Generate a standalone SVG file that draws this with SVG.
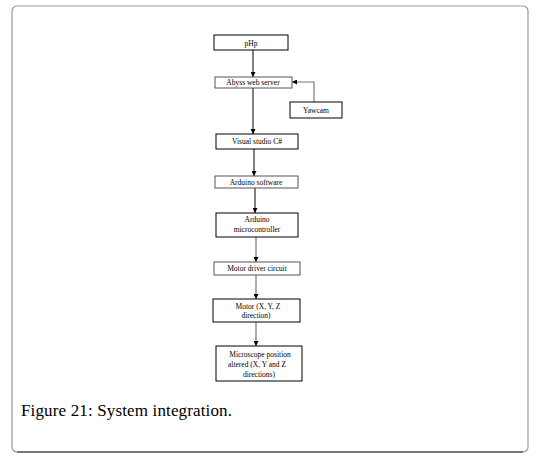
<svg xmlns="http://www.w3.org/2000/svg" width="537" height="458" viewBox="0 0 537 458">
<style>
.box{fill:#fff;stroke:#000;stroke-width:1}
.gbox{fill:#fff;stroke:#555;stroke-width:1}
.t{font-family:"Liberation Serif",serif;font-size:7.5px;fill:#000;text-anchor:middle}
.c{stroke:#000;stroke-width:1;fill:none}
.g{stroke:#777;stroke-width:1.2;fill:none}
</style>
<defs>
<marker id="ah" viewBox="0 0 6 6" refX="6" refY="3" markerWidth="5" markerHeight="5" orient="auto" markerUnits="userSpaceOnUse">
<path d="M0,0 L6,3 L0,6 z" fill="#000"/>
</marker>
</defs>
<rect x="12" y="6" width="516" height="446" rx="5" ry="5" fill="#fff" stroke="#999" stroke-width="1.2"/>
<path d="M17,452 L523,452" stroke="#222" stroke-width="1.2"/>
<g id="connectors">
<line class="c" x1="253" y1="50" x2="253" y2="77" marker-end="url(#ah)"/>
<polyline class="g" points="314,102 314,82 292,82" marker-end="url(#ah)"/>
<line class="c" x1="253" y1="88" x2="253" y2="134" marker-end="url(#ah)"/>
<line class="c" x1="254" y1="149" x2="254" y2="176" marker-end="url(#ah)"/>
<line class="c" x1="255" y1="188" x2="255" y2="213" marker-end="url(#ah)"/>
<line class="g" x1="256" y1="237" x2="256" y2="262" marker-end="url(#ah)"/>
<line class="g" x1="256" y1="275" x2="256" y2="299" marker-end="url(#ah)"/>
<line class="g" x1="256" y1="322" x2="256" y2="346" marker-end="url(#ah)"/>
</g>
<g id="php"><rect class="box" x="214" y="35" width="74" height="15"/><text class="t" x="251" y="45.5">pHp</text></g>
<g id="abyss"><rect class="gbox" x="215" y="77" width="77" height="11"/><text class="t" x="253" y="85">Abyss web server</text></g>
<g id="yawcam"><rect class="box" x="290" y="102" width="52" height="16"/><text class="t" x="316" y="112.5">Yawcam</text></g>
<g id="visual"><rect class="box" x="216" y="134" width="82" height="15"/><text class="t" x="257" y="144">Visual studio C#</text></g>
<g id="arduino-sw"><rect class="gbox" x="215" y="176" width="83" height="12"/><text class="t" x="256" y="184.5">Arduino software</text></g>
<g id="arduino-mc"><rect class="box" x="216" y="213" width="82" height="24"/><text class="t" x="257" y="222">Arduino</text><text class="t" x="257" y="232">microcontroller</text></g>
<g id="motor-driver"><rect class="gbox" x="214" y="262" width="86" height="13"/><text class="t" x="257" y="271">Motor driver circuit</text></g>
<g id="motor"><rect class="box" x="213" y="299" width="87" height="23"/><text class="t" x="258" y="308.5">Motor (X, Y, Z</text><text class="t" x="256" y="318">direction)</text></g>
<g id="microscope"><rect class="box" x="216" y="346" width="86" height="35"/><text class="t" x="260" y="357">Microscope position</text><text class="t" x="257" y="367">altered (X, Y and Z</text><text class="t" x="259" y="377">directions)</text></g>
<text x="21" y="416" font-family="Liberation Serif,serif" font-size="17" fill="#000" textLength="211" lengthAdjust="spacing">Figure 21: System integration.</text>
</svg>
